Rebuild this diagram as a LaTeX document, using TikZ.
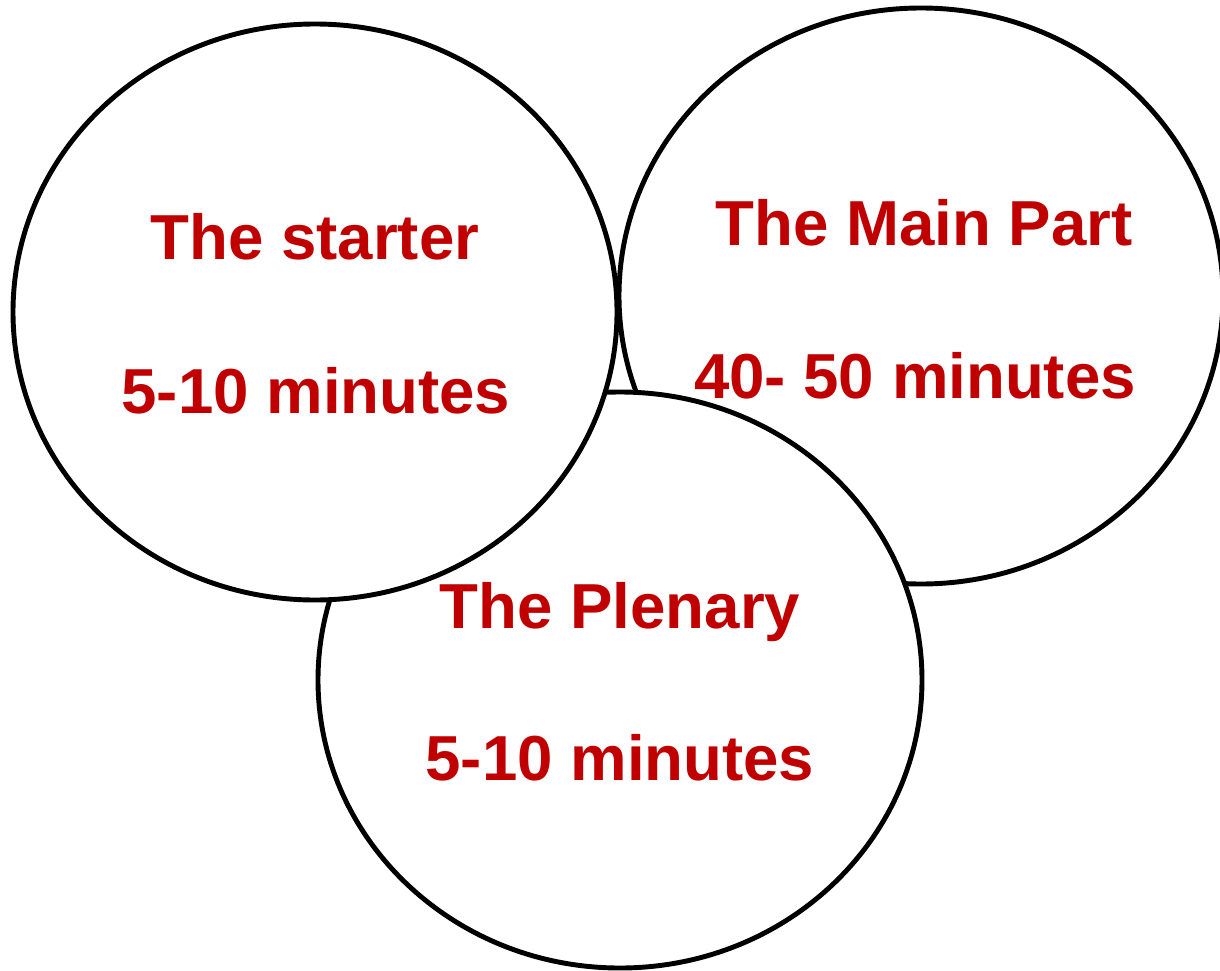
\documentclass[tikz,border=0pt]{standalone}
\usepackage{fontspec}
\setmainfont{Liberation Sans}
\definecolor{lessonred}{HTML}{C00000}
\tikzset{
  phase/.style={draw=black,line width=2.8pt,fill=white},
  phase text/.style={text=lessonred,font=\fontsize{36.2}{43}\selectfont\bfseries,anchor=base,inner sep=0pt}
}

\begin{document}
\begin{tikzpicture}[x=0.02cm,y=-0.02cm]
  \def\rx{302} % half width of a phase
  \def\ry{288} % half height of a phase
  \useasboundingbox (0,0) rectangle (1220,970);
  \coordinate (S) at (315,312); % starter
  \coordinate (M) at (921,296); % main part
  \coordinate (P) at (620,680); % plenary

  % PHASES
  \draw[phase] (M) ellipse [x radius=\rx,y radius=\ry];
  \draw[phase] (P) ellipse [x radius=\rx,y radius=\ry];
  \draw[phase] (S) ellipse [x radius=\rx,y radius=\ry];

  % LABELS
  \node[phase text] (starter) at (315,259) {The starter};
  \node[phase text] (startertime) at (316,413) {5-10 minutes};
  \node[phase text] (main) at (924,245) {The Main Part};
  \node[phase text] (maintime) at (915,398) {40- 50 minutes};
  \node[phase text] (plenary) at (620,628) {The Plenary};
  \node[phase text] (plenarytime) at (620,780) {5-10 minutes};
\end{tikzpicture}
\end{document}
